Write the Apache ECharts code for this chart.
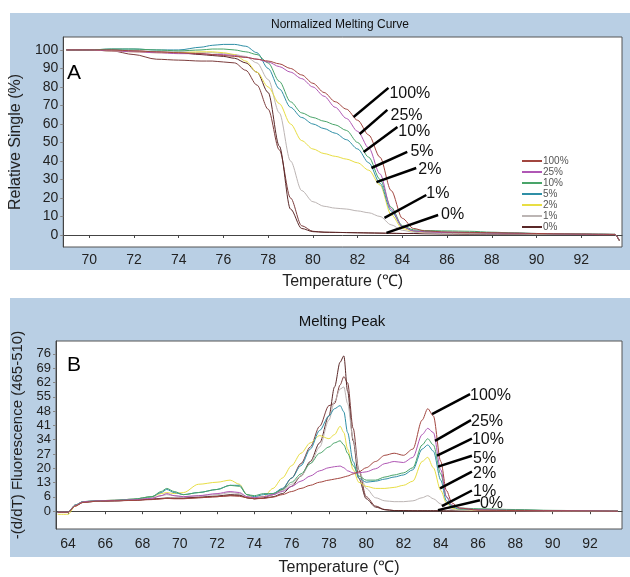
<!DOCTYPE html>
<html>
<head>
<meta charset="utf-8">
<title>Melting curve</title>
<script src="https://cdn.jsdelivr.net/npm/echarts@6/dist/echarts.min.js"></script>
<style>
  body { margin: 0; background: #fff; }
  #main { width: 630px; height: 577px; }
</style>
</head>
<body>
<div id="main"></div>
<script type="text/javascript">
// ---- panel A: normalized melting curve ----
var tempA = [68.98, 70, 71, 72, 73, 74, 75, 75.5, 76, 76.5, 77, 77.5, 78, 78.5, 79, 79.5, 80, 80.5, 81, 81.5,
             82, 82.5, 83, 83.5, 84, 84.5, 85, 86, 87, 88, 89, 90, 91, 92, 93, 93.5, 93.7];
var meltA100 = [100, 100, 100, 99.5, 99, 98.5, 98, 97.5, 97, 96.5, 96, 95, 94, 92.5, 90, 86.5, 82, 77, 72, 68,
                62, 54, 42, 24, 9, 3.5, 2.2, 1.6, 1.4, 1.2, 1, 0.8, 0.6, 0.5, 0.4, 0.3, -3];
var meltA25 = [100, 100, 99.5, 99, 98.5, 98, 98, 97.5, 97.5, 97, 96, 95, 93.5, 91, 88, 84.5, 80, 75, 69, 63,
               56, 47, 33, 14, 4.5, 2.2, 1.6, 1.3, 1.2, 1, 0.9, 0.7, 0.5, 0.4, 0.3, 0.3, -3];
var meltA10 = [100, 100, 100.5, 100.5, 100, 99.5, 100, 100.5, 100.5, 100, 99, 97.5, 93, 83, 72, 66, 63.5, 61.5, 59.5, 56.5,
               50, 42, 30, 15, 5, 2.8, 2.4, 2.2, 2, 1.5, 1.1, 0.8, 0.6, 0.5, 0.4, 0.3, -3];
var meltA5 = [100, 100, 100.5, 100.5, 100, 100, 101.5, 102.5, 103, 103, 102, 98.5, 90, 79, 69, 63.5, 60, 57.5, 55, 51.5,
              46.5, 39, 28, 13, 4.5, 2.2, 1.8, 1.5, 1.3, 1.1, 1, 0.8, 0.6, 0.5, 0.4, 0.3, -3];
var meltA2 = [100, 100, 99.5, 99, 98.5, 98.5, 99, 99, 98.5, 97.5, 94, 88, 80, 71, 60, 51, 46.5, 44, 42.5, 41,
              39, 35, 27, 11, 3.5, 2, 1.5, 1.3, 1.2, 1, 0.9, 0.7, 0.5, 0.4, 0.3, 0.3, -3];
var meltA1 = [100, 100, 99.5, 99.5, 99, 99, 98.5, 98.5, 98, 97.5, 96.5, 93, 84, 66, 40, 24, 18, 15.5, 14.5, 14,
              13, 12, 10, 5.5, 2.5, 1.5, 1, 0.8, 0.7, 0.6, 0.5, 0.4, 0.3, 0.3, 0.2, 0.2, -3];
var meltA0 = [100, 100, 100, 99.5, 99, 98.5, 97.5, 97, 96.5, 95.5, 93, 88, 77, 48, 14, 3.5, 1.8, 1.5, 1.4, 1.3,
              1.2, 1.1, 1, 0.9, 0.8, 0.8, 0.7, 0.6, 0.5, 0.5, 0.4, 0.4, 0.3, 0.3, 0.2, 0.2, -3];
var meltA0rep = [100, 100, 99.5, 97.5, 95, 94.5, 94, 94, 93.5, 93, 89, 81, 68, 46, 20, 5, 2, 1.5, 1.4, 1.3,
                 1.2, 1.1, 1, 0.9, 0.8, 0.8, 0.7, 0.6, 0.5, 0.5, 0.4, 0.4, 0.3, 0.3, 0.2, 0.2, -3];

// ---- panel B: melting peak ----
var tempB = [63.45, 64, 64.4, 64.8, 65.5, 66.5, 67.5, 68.5, 69, 69.3, 69.7, 70.2, 71, 72, 72.7, 73.2, 73.6, 74, 74.5, 75,
             75.5, 76, 76.5, 77, 77.5, 78, 78.3, 78.6, 78.8, 79, 79.3, 79.6, 80, 80.5, 81, 81.5, 82, 82.5, 83, 83.3,
             83.6, 84, 84.3, 84.6, 85, 86, 88, 90, 92, 93.5];
var peakB100 = [-0.5, -0.5, 2.5, 4.2, 4.8, 5, 5.2, 5.6, 6, 6.2, 6, 6, 6.5, 7, 7.5, 7.2, 6.5, 6, 6.2, 6.8,
                8, 9.5, 11, 12.5, 14, 15, 15.5, 16, 16.5, 17, 18, 19, 21, 24, 27, 28, 27, 30, 44, 49.5,
                46, 24, 10, 4, 1.5, 0.5, 0.3, 0.2, 0.1, 0];
var peakB25 = [-0.5, -0.5, 2.8, 4.5, 5, 5.2, 5.5, 6.2, 7.5, 8.5, 7.5, 7, 7.5, 8.5, 9.5, 9, 7, 6.5, 7, 8,
               9.5, 12, 14.5, 17, 19.5, 21, 21.5, 21.8, 21, 19.5, 18.5, 18.5, 19, 20.5, 23, 24, 23.5, 26, 37, 40,
               38, 20, 7, 3, 1.5, 0.7, 0.4, 0.3, 0.2, 0];
var peakB10 = [-0.5, -0.5, 3, 4.6, 5, 5.2, 5.8, 7, 9.5, 11, 9.5, 8, 9, 10.5, 12.5, 12, 8, 7.5, 8.5, 8.5,
               10.5, 14, 18, 23, 28, 31, 33, 34, 32, 28, 22, 17, 15, 15, 16.5, 17.5, 18.5, 21, 32, 35,
               32, 18, 7, 2.5, 1.5, 1.2, 0.8, 0.4, 0.2, 0];
var peakB5 = [-0.5, -0.5, 3, 4.6, 5, 5.3, 5.8, 7, 9, 10.5, 9, 8, 9, 10.5, 12.5, 12.5, 8, 7, 8, 8.5,
              11, 16, 22, 30, 39, 46, 49.5, 51, 48, 38, 24, 16, 14, 14.5, 15.5, 16.5, 17.5, 20, 30, 32,
              29, 15, 5, 2, 1, 0.8, 0.5, 0.3, 0.2, 0];
var peakB2 = [-1.5, -1.5, 2.5, 4.5, 5, 5.3, 5.8, 7, 8.5, 9, 8.5, 9, 13, 14, 15, 13, 8, 6.5, 7, 11,
              16, 22, 28, 33, 36.5, 35, 37, 41, 38, 30, 20, 14, 12, 11, 11, 11.5, 12.5, 14.5, 24, 26,
              21, 10, 4, 1.5, 0.8, 0.6, 0.4, 0.3, 0.2, 0];
var peakB1 = [-0.5, -0.5, 3, 4.5, 5, 5.2, 5.6, 6.5, 7.5, 8, 7.5, 7, 7.5, 8, 9, 8.5, 7, 6.5, 7, 8,
              10, 13, 17, 23, 31, 44, 53, 59, 60, 52, 35, 20, 11, 6.5, 5, 4.6, 4.6, 5, 6.5, 7.5,
              6, 3.5, 1.5, 0.8, 0.5, 0.3, 0.2, 0.1, 0.1, 0];
var peakB0 = [-0.5, -0.5, 2.5, 4.3, 4.8, 5, 5.3, 5.8, 6.2, 6.4, 6.3, 6.3, 6.8, 7.3, 8, 7.8, 6.5, 6, 6.3, 7,
              8.5, 12, 17, 24, 33, 46, 60, 72, 75, 58, 34, 16, 6, 2, 0.7, 0.3, 0.3, 0.2, 0.2, 0.2,
              0.2, 0.2, 0.1, 0.1, 0.1, 0.1, 0.1, 0, 0, 0];
var peakB0rep = [-0.5, -0.5, 2.5, 4.3, 4.8, 5, 5.3, 5.8, 6, 6.2, 6.2, 6.2, 6.5, 7, 7.5, 7.5, 6.5, 6, 6.5, 8,
                 10.5, 16, 23, 31, 41, 51, 52, 61, 65, 62, 40, 20, 7, 2.5, 0.8, 0.3, 0.3, 0.2, 0.2, 0.2,
                 0.2, 0.2, 0.1, 0.1, 0.1, 0.1, 0.1, 0, 0, 0];

// tick labels
var xTicksA = [70, 72, 74, 76, 78, 80, 82, 84, 86, 88, 90, 92];
var yTicksA = [0, 10, 20, 30, 40, 50, 60, 70, 80, 90, 100];
var xTicksB = [64, 66, 68, 70, 72, 74, 76, 78, 80, 82, 84, 86, 88, 90, 92];
var yTicksB = [0, 6, 13, 20, 27, 34, 41, 48, 55, 62, 69, 76];

var names = ['100%', '25%', '10%', '5%', '2%', '1%', '0%'];
var colors = ['#a2463f', '#b057b5', '#49a469', '#2f8fa6', '#e8de44', '#bcb5b4', '#5a2828'];
var repColor = '#7c3d3d';

// leader lines [x1, y1, x2, y2] and label anchors [x, y], in data units
var leaderA = [[81.82, 63.8, 83.38, 79.5], [82.09, 54.6, 83.33, 67.6], [82.27, 44.9, 83.78, 58.4],
               [82.62, 36.2, 84.22, 44.9], [82.84, 28.6, 84.62, 36.2], [83.2, 9.2, 85.07, 21.6],
               [83.29, 1.1, 85.6, 10.8]];
var labelA = [[83.42, 76.2], [83.47, 64.3], [83.82, 55.7], [84.36, 44.9], [84.71, 35.1], [85.07, 22.2], [85.73, 10.8]];
var leaderB = [[83.53, 46.9, 85.57, 56.5], [83.69, 34.0, 85.62, 44.0], [83.80, 26.8, 85.67, 35.0],
               [83.85, 21.5, 85.67, 26.8], [83.96, 11.0, 85.67, 19.1], [84.06, 2.4, 85.67, 10.0],
               [83.85, 0.5, 86.10, 5.3]];
var labelB = [[85.57, 56.0], [85.62, 43.5], [85.67, 34.4], [85.73, 25.4], [85.73, 18.2], [85.73, 9.6], [86.10, 3.8]];

var FONT = '"Liberation Sans", Arial, sans-serif';

function zip(xs, ys) {
  return xs.map(function (x, i) { return [x, ys[i]]; });
}

function curve(name, color, xs, ys, idx, lead, lab) {
  var s = {
    name: name,
    type: 'line',
    xAxisIndex: idx,
    yAxisIndex: idx,
    data: zip(xs, ys),
    showSymbol: false,
    smooth: 0.3,
    smoothMonotone: 'x',
    lineStyle: { width: 1, color: color },
    itemStyle: { color: color },
    emphasis: { disabled: true },
    animation: false
  };
  if (lead) {
    s.markLine = {
      silent: true,
      symbol: 'none',
      animation: false,
      lineStyle: { color: '#000', width: 2.5, type: 'solid' },
      label: { show: false },
      data: [[{ coord: [lead[0], lead[1]] }, { coord: [lead[2], lead[3]] }]]
    };
    s.markPoint = {
      silent: true,
      symbol: 'circle',
      symbolSize: 0,
      animation: false,
      label: {
        show: true, position: 'right', distance: 0, formatter: name,
        color: '#111', fontSize: 16, fontFamily: FONT
      },
      data: [{ coord: lab }]
    };
  }
  return s;
}

var meltA = [meltA100, meltA25, meltA10, meltA5, meltA2, meltA1, meltA0];
var peakB = [peakB100, peakB25, peakB10, peakB5, peakB2, peakB1, peakB0];

var series = [];
series.push(curve('0% rep', repColor, tempA, meltA0rep, 0));
series.push(curve('0% rep', repColor, tempB, peakB0rep, 1));
for (var i = names.length - 1; i >= 0; i--) {
  series.push(curve(names[i], colors[i], tempA, meltA[i], 0, leaderA[i], labelA[i]));
  series.push(curve(names[i], colors[i], tempB, peakB[i], 1, leaderB[i], labelB[i]));
}

var axisText = { color: '#222', fontSize: 14, fontFamily: FONT };

var myChart = echarts.init(document.getElementById('main'));
var option = {
  backgroundColor: '#fff',
  animation: false,
  textStyle: { fontFamily: FONT },
  graphic: [
    { type: 'rect', z: -10, silent: true, shape: { x: 10, y: 13, width: 620, height: 257 }, style: { fill: '#b9cfe4' } },
    { type: 'rect', z: -10, silent: true, shape: { x: 10, y: 298, width: 620, height: 259 }, style: { fill: '#b9cfe4' } },
    { type: 'text', x: 340, y: 25, silent: true,
      style: { text: 'Normalized Melting Curve', font: '12px ' + FONT, fill: '#111', textAlign: 'center', textVerticalAlign: 'middle' } },
    { type: 'text', x: 342, y: 322, silent: true,
      style: { text: 'Melting Peak', font: '15px ' + FONT, fill: '#111', textAlign: 'center', textVerticalAlign: 'middle' } },
    { type: 'text', x: 67, y: 73, silent: true,
      style: { text: 'A', font: '21px ' + FONT, fill: '#000', textAlign: 'left', textVerticalAlign: 'middle' } },
    { type: 'text', x: 67, y: 365, silent: true,
      style: { text: 'B', font: '21px ' + FONT, fill: '#000', textAlign: 'left', textVerticalAlign: 'middle' } }
  ],
  legend: {
    data: names,
    orient: 'vertical',
    left: 522,
    top: 156,
    padding: 0,
    itemGap: 1,
    itemWidth: 20,
    itemHeight: 2,
    icon: 'rect',
    selectedMode: false,
    textStyle: { fontSize: 10, lineHeight: 10, color: '#555', padding: [0, 0, 0, -4] }
  },
  grid: [
    { left: 60, top: 37, right: 8, height: 210, show: true, backgroundColor: '#fff', borderColor: '#555', borderWidth: 1 },
    { left: 56, top: 341, right: 8, height: 190, show: true, backgroundColor: '#fff', borderColor: '#555', borderWidth: 1 }
  ],
  xAxis: [
    {
      type: 'value', gridIndex: 0, min: 68.84, max: 93.82,
      name: 'Temperature (℃)', nameLocation: 'middle', nameGap: 27,
      nameTextStyle: { fontSize: 16, color: '#222', fontFamily: FONT },
      splitLine: { show: false },
      axisLine: { lineStyle: { color: '#444' } },
      axisTick: { customValues: xTicksA, length: 3, lineStyle: { color: '#444' } },
      axisLabel: Object.assign({ customValues: xTicksA, margin: 6 }, axisText)
    },
    {
      type: 'value', gridIndex: 1, min: 63.36, max: 93.72,
      name: 'Temperature (℃)', nameLocation: 'middle', nameGap: 31,
      nameTextStyle: { fontSize: 16, color: '#222', fontFamily: FONT },
      splitLine: { show: false },
      axisLine: { lineStyle: { color: '#444' } },
      axisTick: { customValues: xTicksB, length: 3, lineStyle: { color: '#444' } },
      axisLabel: Object.assign({ customValues: xTicksB, margin: 8 }, axisText)
    }
  ],
  yAxis: [
    {
      type: 'value', gridIndex: 0, min: -6.5, max: 107,
      name: 'Relative Single (%)', nameLocation: 'middle', nameGap: 30, nameRotate: 90,
      nameTextStyle: { fontSize: 16, color: '#222', fontFamily: FONT },
      splitLine: { show: false },
      axisLine: { show: true, lineStyle: { color: '#444' } },
      axisTick: { show: true, customValues: yTicksA, length: 3, lineStyle: { color: '#888' } },
      axisLabel: Object.assign({ customValues: yTicksA, margin: 5 }, axisText)
    },
    {
      type: 'value', gridIndex: 1, min: -8.6, max: 82.2,
      name: '-(d/dT) Fluorescence (465-510)', nameLocation: 'middle', nameGap: 27, nameRotate: 90,
      nameTextStyle: { fontSize: 15, color: '#222', fontFamily: FONT },
      splitLine: { show: false },
      axisLine: { show: true, lineStyle: { color: '#444' } },
      axisTick: { show: true, customValues: yTicksB.map(function (v, i) { return i * 76 / 11; }), length: 3, lineStyle: { color: '#888' } },
      axisLabel: Object.assign({
        customValues: yTicksB.map(function (v, i) { return i * 76 / 11; }),
        margin: 5,
        formatter: function (v) { return String(Math.floor(v + 1e-6)); }
      }, axisText, { fontSize: 13 })
    }
  ],
  series: series
};
myChart.setOption(option);
</script>
</body>
</html>
